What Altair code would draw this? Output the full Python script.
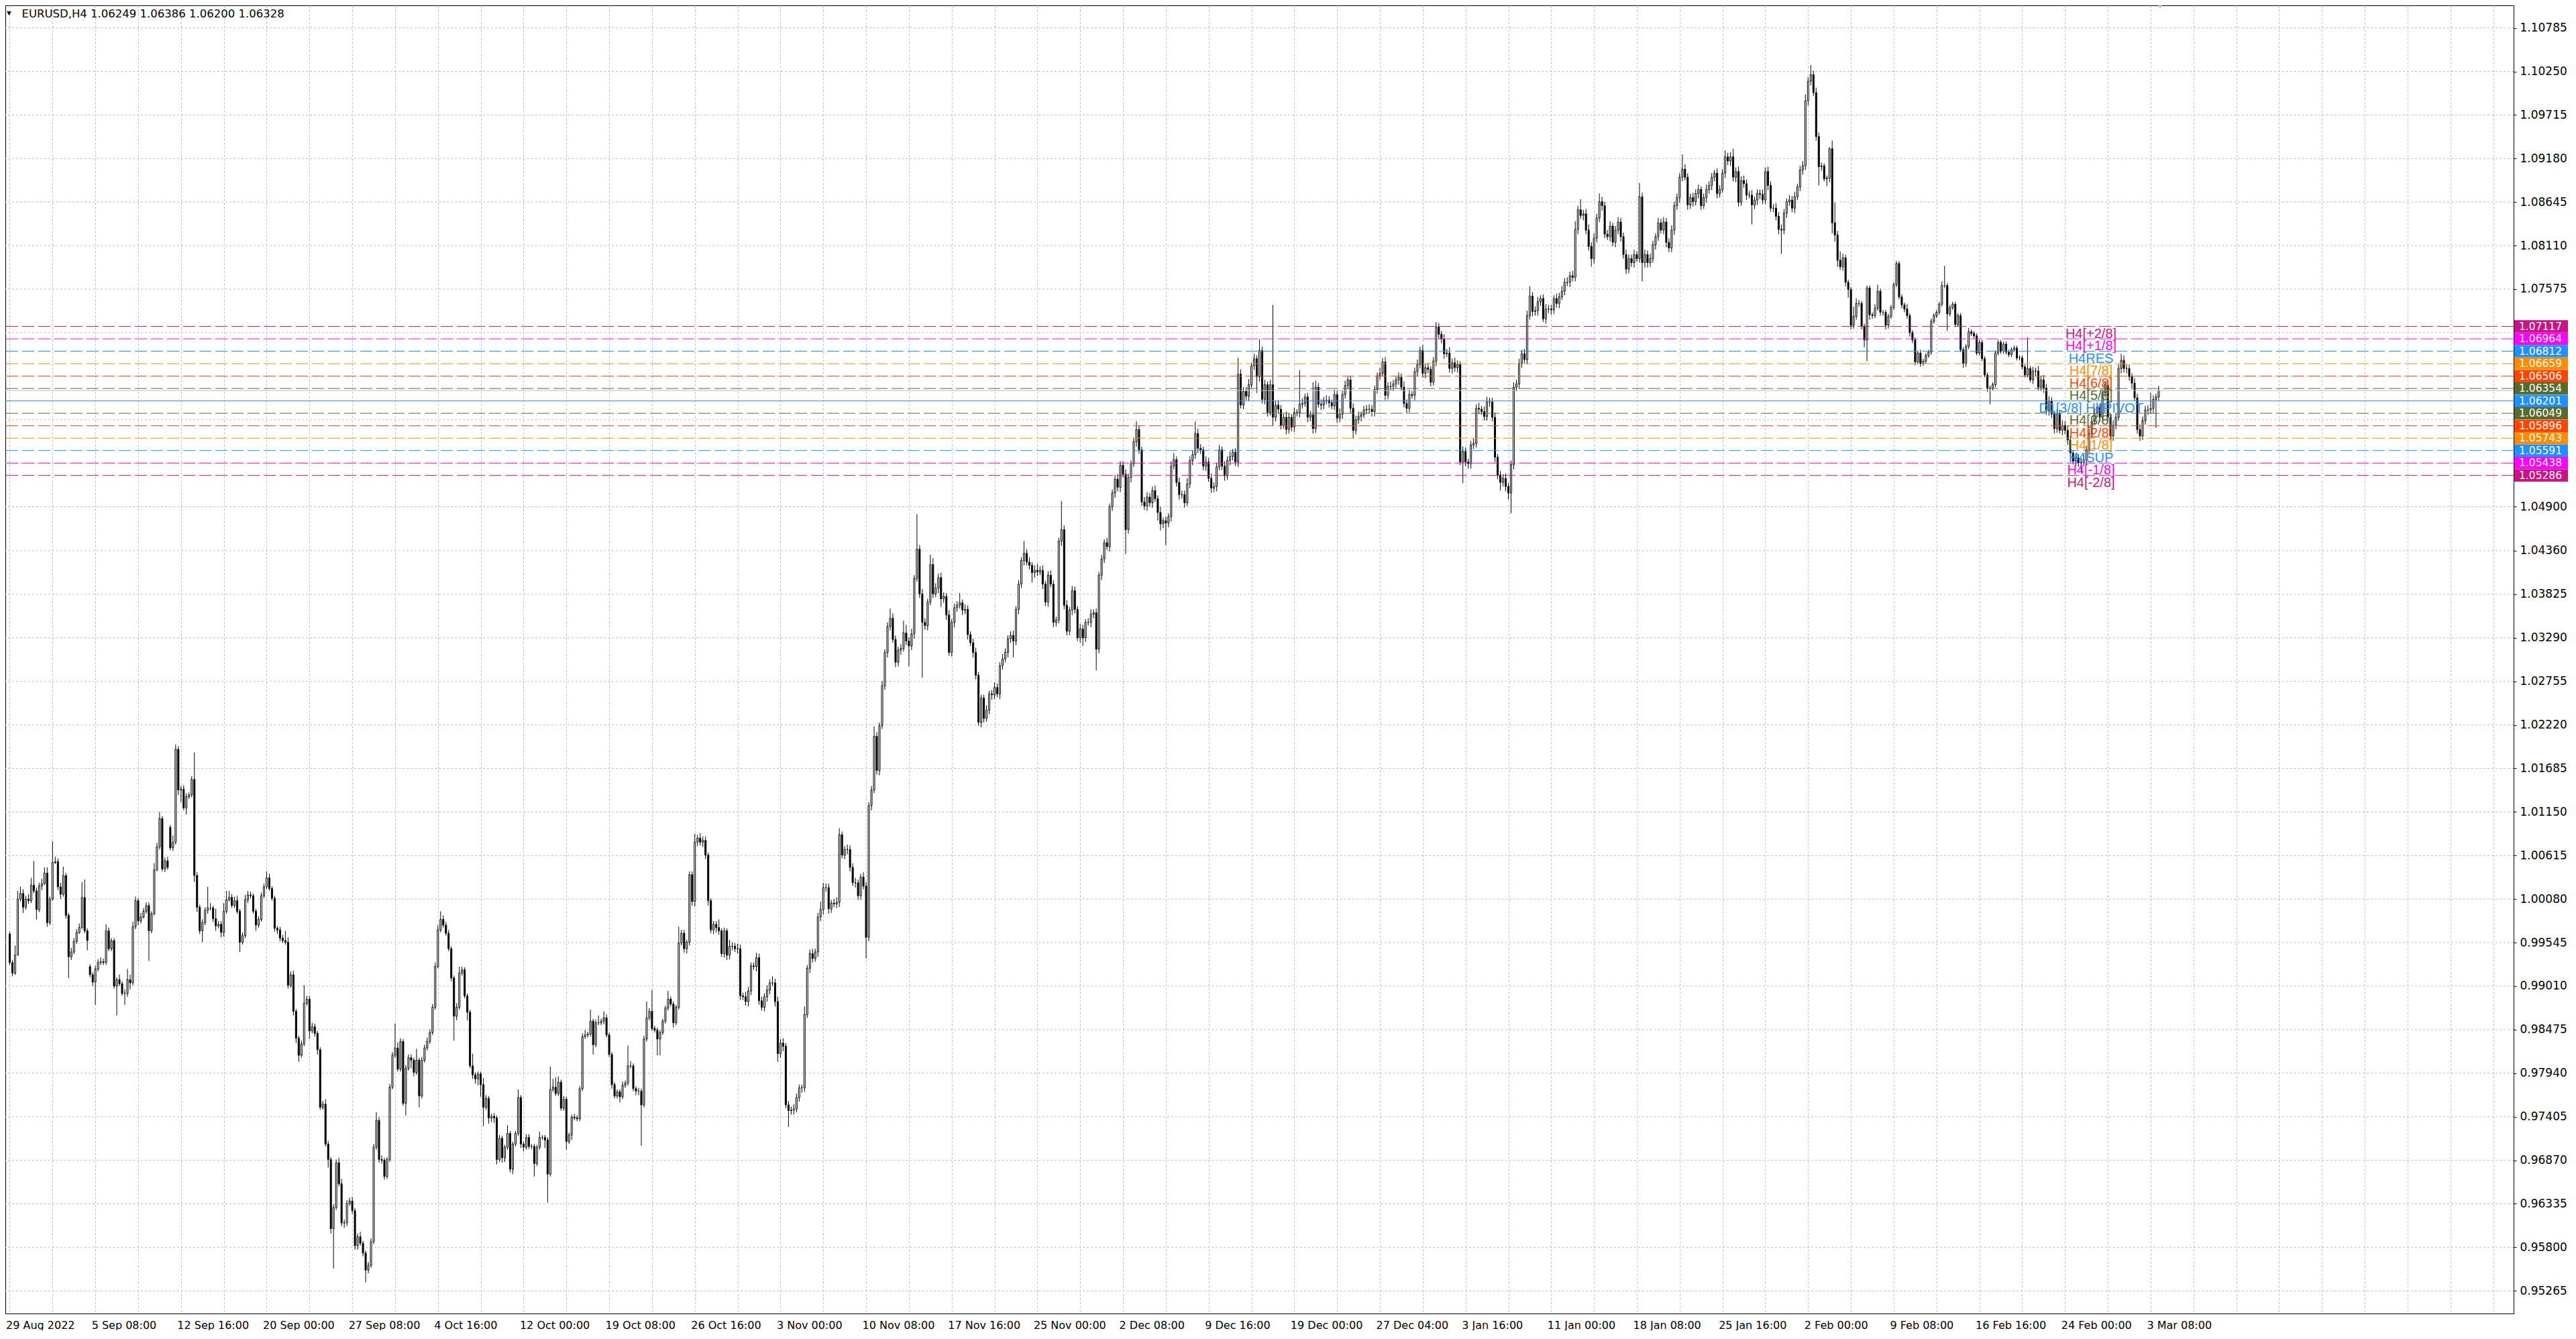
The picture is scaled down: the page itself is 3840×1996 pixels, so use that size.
import altair as alt
import pandas as pd

# ---------------- data (prices in pips, 1 pip = 0.0001) ----------------
SYMBOL = "EURUSD,H4"
FIRST_OPEN = 9965
GAP_OPENS = {30: 9925, 60: 10096}

CLOSE_PIPS = [
    9930, 9917, 9939, 10008, 10015, 9998,
    10008, 10006, 10025, 10018, 9995, 10024,
    10027, 10040, 9979, 10008, 10053, 10054,
    10023, 10014, 10037, 9988, 9937, 9943,
    9956, 9967, 9973, 10010, 9969, 9957,
    9915, 9906, 9922, 9930, 9931, 9930,
    9969, 9947, 9957, 9901, 9909, 9904,
    9892, 9892, 9909, 9905, 9974, 10006,
    9981, 9986, 9993, 10000, 9969, 9990,
    10044, 10072, 10107, 10045, 10055, 10047,
    10071, 10078, 10192, 10142, 10143, 10120,
    10134, 10136, 10155, 10037, 9998, 9969,
    9979, 9994, 9997, 9997, 9984, 9975,
    9977, 9967, 9993, 10007, 10010, 10000,
    10006, 9993, 9955, 9963, 10007, 10013,
    10012, 9993, 9976, 9983, 10012, 10023,
    10034, 10021, 10009, 9972, 9970, 9960,
    9957, 9955, 9902, 9915, 9870, 9837,
    9816, 9830, 9880, 9885, 9846, 9851,
    9843, 9823, 9752, 9756, 9707, 9688,
    9603, 9629, 9684, 9658, 9610, 9610,
    9634, 9637, 9625, 9582, 9593, 9585,
    9573, 9552, 9558, 9587, 9703, 9736,
    9688, 9687, 9667, 9688, 9777, 9816,
    9825, 9799, 9833, 9757, 9800, 9813,
    9810, 9795, 9810, 9766, 9810, 9825,
    9833, 9844, 9875, 9925, 9970, 9983,
    9976, 9966, 9947, 9911, 9864, 9875,
    9917, 9921, 9889, 9869, 9803, 9792,
    9787, 9793, 9780, 9752, 9763, 9739,
    9741, 9739, 9688, 9714, 9690, 9703,
    9720, 9676, 9707, 9720, 9764, 9707,
    9703, 9715, 9704, 9704, 9683, 9703,
    9715, 9715, 9712, 9670, 9774, 9777,
    9769, 9783, 9751, 9762, 9710, 9718,
    9740, 9739, 9738, 9775, 9839, 9841,
    9842, 9858, 9829, 9856, 9856, 9858,
    9862, 9841, 9817, 9780, 9766, 9771,
    9765, 9779, 9782, 9803, 9803, 9775,
    9772, 9772, 9755, 9836, 9862, 9870,
    9849, 9847, 9836, 9844, 9858, 9874,
    9885, 9879, 9856, 9875, 9954, 9966,
    9947, 9955, 10038, 10005, 10078, 10083,
    10078, 10080, 10062, 10006, 9970, 9977,
    9973, 9969, 9941, 9969, 9939, 9950,
    9950, 9947, 9947, 9889, 9888, 9882,
    9895, 9926, 9925, 9936, 9883, 9875,
    9888, 9896, 9905, 9905, 9882, 9818,
    9831, 9827, 9755, 9748, 9749, 9750,
    9764, 9776, 9776, 9866, 9923, 9941,
    9935, 9943, 9986, 9995, 10022, 10022,
    9996, 10003, 10002, 10004, 10087, 10062,
    10069, 10069, 10047, 10028, 10028, 10012,
    10035, 10024, 9961, 10123, 10142, 10208,
    10166, 10221, 10270, 10311, 10343, 10353,
    10327, 10299, 10314, 10316, 10335, 10325,
    10319, 10334, 10402, 10438, 10383, 10348,
    10344, 10373, 10419, 10383, 10390, 10403,
    10377, 10380, 10357, 10311, 10348, 10366,
    10369, 10372, 10363, 10364, 10333, 10323,
    10311, 10283, 10225, 10255, 10230, 10240,
    10260, 10259, 10268, 10260, 10295, 10303,
    10311, 10328, 10332, 10325, 10364, 10395,
    10424, 10433, 10422, 10418, 10409, 10412,
    10410, 10412, 10395, 10373, 10406, 10395,
    10348, 10351, 10448, 10462, 10369, 10337,
    10363, 10387, 10364, 10329, 10340, 10329,
    10348, 10348, 10358, 10360, 10315, 10406,
    10426, 10446, 10441, 10490, 10507, 10524,
    10514, 10541, 10530, 10462, 10526, 10543,
    10570, 10585, 10560, 10496, 10491, 10502,
    10495, 10510, 10500, 10483, 10469, 10473,
    10470, 10478, 10540, 10548, 10520, 10505,
    10505, 10495, 10518, 10547, 10554, 10580,
    10562, 10560, 10540, 10545, 10525, 10513,
    10515, 10539, 10560, 10540, 10528, 10547,
    10552, 10557, 10545, 10653, 10615, 10632,
    10626, 10640, 10663, 10672, 10650, 10682,
    10622, 10640, 10606, 10640, 10600, 10615,
    10610, 10590, 10600, 10585, 10600, 10588,
    10606, 10606, 10616, 10617, 10625, 10600,
    10603, 10586, 10637, 10616, 10615, 10621,
    10621, 10618, 10614, 10628, 10599, 10604,
    10628, 10639, 10646, 10611, 10584, 10597,
    10601, 10603, 10609, 10610, 10610, 10607,
    10634, 10651, 10654, 10668, 10627, 10638,
    10638, 10641, 10646, 10649, 10637, 10617,
    10611, 10628, 10627, 10656, 10665, 10682,
    10654, 10661, 10659, 10643, 10669, 10711,
    10702, 10696, 10678, 10679, 10660, 10667,
    10661, 10665, 10545, 10558, 10545, 10543,
    10566, 10568, 10611, 10610, 10607, 10601,
    10619, 10619, 10600, 10551, 10529, 10520,
    10525, 10515, 10507, 10542, 10637, 10641,
    10666, 10678, 10671, 10725, 10749, 10730,
    10731, 10742, 10746, 10721, 10733, 10733,
    10732, 10746, 10740, 10748, 10755, 10766,
    10766, 10774, 10772, 10831, 10855, 10848,
    10850, 10830, 10810, 10795, 10820, 10845,
    10865, 10860, 10825, 10822, 10835, 10815,
    10830, 10840, 10822, 10800, 10782, 10795,
    10790, 10800, 10795, 10871, 10790, 10800,
    10790, 10795, 10812, 10822, 10839, 10830,
    10840, 10815, 10808, 10830, 10860, 10870,
    10895, 10905, 10895, 10861, 10870, 10865,
    10875, 10880, 10860, 10870, 10880, 10885,
    10895, 10900, 10875, 10880, 10900, 10920,
    10915, 10920, 10895, 10902, 10864, 10891,
    10887, 10873, 10873, 10861, 10867, 10875,
    10874, 10867, 10902, 10885, 10857, 10857,
    10847, 10831, 10830, 10851, 10865, 10867,
    10857, 10871, 10883, 10904, 10909, 10989,
    11013, 11021, 10999, 10945, 10908, 10909,
    10893, 10894, 10930, 10839, 10824, 10793,
    10785, 10796, 10766, 10757, 10713, 10724,
    10740, 10740, 10712, 10695, 10759, 10726,
    10725, 10734, 10755, 10729, 10729, 10713,
    10724, 10735, 10763, 10789, 10748, 10738,
    10733, 10725, 10704, 10695, 10668, 10679,
    10666, 10669, 10676, 10680, 10718, 10725,
    10729, 10739, 10762, 10762, 10727, 10735,
    10739, 10714, 10725, 10683, 10666, 10687,
    10705, 10703, 10700, 10679, 10692, 10672,
    10652, 10636, 10636, 10640, 10679, 10692,
    10681, 10690, 10680, 10677, 10683, 10685,
    10673, 10673, 10662, 10652, 10660, 10646,
    10657, 10657, 10637, 10646, 10636, 10608,
    10620, 10604, 10586, 10604, 10584, 10590,
    10584, 10572, 10556, 10546, 10550, 10544,
    10545, 10548, 10560, 10580, 10595, 10605,
    10612, 10600, 10630, 10640, 10600, 10577,
    10590, 10600, 10660, 10670, 10660, 10660,
    10650, 10642, 10624, 10585, 10577, 10596,
    10609, 10609, 10611, 10622, 10624.9, 10632.8,
]

UPPER_WICK = [
    3, 3, 12, 10, 8, 5,  4, 6, 9, 30, 4, 4,  6, 7, 7, 3, 26, 6,
    4, 5, 11, 3, 3, 5,  4, 4, 5, 19, 22, 3,  3, 3, 4, 4, 5, 4,
    8, 4, 3, 3, 3, 6,  3, 5, 13, 6, 6, 5,  3, 5, 4, 4, 4, 3,
    8, 5, 8, 3, 4, 5,  3, 8, 6, 4, 4, 5,  4, 3, 4, 33, 4, 3,
    4, 4, 26, 6, 3, 12,  4, 4, 10, 11, 8, 4,  5, 6, 3, 4, 6, 5,
    4, 3, 3, 4, 4, 4,  8, 5, 3, 3, 3, 4,  4, 12, 6, 4, 5, 3,
    3, 4, 22, 4, 4, 5,  4, 3, 3, 4, 6, 4,  3, 4, 4, 6, 6, 4,
    4, 4, 5, 3, 4, 6,  3, 3, 4, 4, 4, 10,  4, 5, 3, 3, 4, 4,
    30, 7, 4, 3, 4, 4,  4, 3, 14, 3, 4, 4,  5, 4, 4, 5, 6, 10,
    5, 4, 4, 3, 3, 5,  8, 4, 3, 3, 3, 15,  3, 3, 3, 8, 4, 3,
    3, 4, 3, 4, 3, 3,  10, 3, 3, 3, 10, 3,  3, 4, 4, 3, 3, 3,
    7, 3, 3, 3, 28, 10,  12, 7, 3, 4, 3, 3,  3, 4, 3, 3, 4, 6,
    3, 14, 3, 4, 9, 3,  8, 4, 3, 3, 3, 3,  3, 5, 3, 25, 6, 3,
    3, 4, 3, 4, 20, 4,  26, 3, 3, 3, 3, 3,  10, 3, 3, 3, 20, 4,
    4, 3, 4, 4, 10, 4,  6, 5, 5, 3, 3, 4,  4, 10, 3, 4, 3, 8,
    5, 4, 6, 5, 4, 6,  5, 4, 4, 6, 5, 5,  4, 6, 4, 8, 5, 6,
    5, 6, 4, 5, 4, 6,  5, 4, 4, 10, 4, 5,  6, 4, 5, 10, 6, 5,
    5, 4, 5, 6, 8, 4,  4, 6, 5, 5, 6, 4,  4, 6, 5, 4, 5, 12,
    5, 4, 6, 4, 5, 12,  6, 5, 4, 5, 15, 10,  5, 6, 4, 43, 5, 6,
    5, 4, 12, 8, 6, 5,  6, 5, 4, 6, 4, 5,  5, 12, 4, 6, 5, 4,
    5, 6, 4, 4, 4, 6,  4, 5, 6, 5, 4, 6,  5, 4, 5, 6, 4, 5,
    4, 15, 5, 6, 4, 6,  8, 5, 6, 4, 5, 6,  5, 4, 4, 35, 5, 6,
    4, 6, 5, 4, 6, 5,  4, 5, 6, 4, 5, 4,  5, 4, 6, 4, 4, 5,
    6, 5, 5, 6, 5, 4,  5, 10, 5, 4, 6, 6,  5, 5, 6, 4, 7, 4,
    5, 4, 6, 8, 4, 6,  5, 5, 7, 5, 5, 15,  6, 5, 4, 7, 5, 6,
    5, 5, 6, 4, 6, 5,  6, 4, 5, 20, 6, 5,  5, 7, 4, 6, 4, 14,
    5, 6, 4, 6, 98, 5,  6, 5, 4, 7, 5, 4,  6, 4, 42, 6, 4, 5,
    5, 40, 8, 5, 6, 4,  6, 5, 4, 6, 5, 7,  5, 6, 4, 5, 6, 5,
    6, 4, 5, 5, 6, 5,  5, 4, 7, 5, 6, 5,  6, 5, 4, 6, 5, 7,
    5, 6, 4, 5, 6, 5,  7, 5, 6, 4, 5, 6,  5, 4, 6, 5, 7, 5,
    6, 5, 4, 6, 5, 4,  5, 6, 5, 7, 4, 6,  6, 5, 5, 6, 4, 5,
    5, 6, 4, 5, 6, 5,  6, 5, 6, 6, 12, 5,  5, 6, 4, 5, 6, 5,
    5, 4, 6, 5, 6, 5,  6, 5, 6, 10, 5, 13,  5, 6, 7, 5, 6, 5,
    10, 6, 5, 5, 6, 4,  5, 6, 5, 5, 6, 5,  5, 6, 4, 17, 5, 6,
    5, 6, 5, 4, 6, 5,  6, 5, 5, 6, 5, 5,  5, 18, 6, 5, 5, 6,
    5, 6, 4, 5, 6, 5,  5, 4, 6, 5, 5, 8,  5, 6, 10, 5, 6, 5,
    6, 5, 5, 6, 4, 5,  5, 6, 5, 6, 5, 5,  6, 5, 6, 5, 4, 6,
    5, 6, 4, 5, 6, 8,  5, 12, 5, 6, 5, 4,  3, 3, 2, 10, 25, 5,
    11, 5, 4, 3, 3, 12,  6, 4, 3, 3, 3, 3,  3, 5, 8, 3, 3, 3,
    3, 3, 3, 3, 3, 3,  3, 6, 3, 3, 3, 3,  4, 3, 3, 3, 3, 3,
    3, 3, 5, 24, 3, 3,  3, 3, 3, 3, 3, 3,  5, 3, 3, 3, 3, 3,
    3, 3, 3, 3, 3, 3,  3, 3, 3, 3, 3, 3,  3, 3, 3, 3, 38, 3,
    5, 4, 6, 5, 6, 5,  6, 5, 4, 6, 5, 6,  5, 6, 5, 4, 6, 5,
    5, 6, 5, 6, 5, 6,  6, 5, 5, 5, 6, 5,  6, 5, 5, 8, 6, 5,
    5, 4, 6, 5, 6, 5,  5, 6, 19, 5, 4, 5.8,
]

LOWER_WICK = [
    3, 4, 2, 0, 3, 7,  3, 4, 3, 3, 12, 3,  5, 2, 5, 3, 2, 2,
    4, 6, 3, 4, 26, 4,  3, 3, 2, 2, 3, 12,  3, 5, 28, 3, 3, 3,
    3, 3, 3, 3, 36, 3,  3, 14, 4, 8, 3, 3,  5, 3, 2, 3, 37, 3,
    2, 2, 3, 3, 4, 3,  3, 4, 3, 6, 15, 3,  8, 3, 3, 8, 6, 4,
    14, 3, 4, 3, 4, 6,  3, 6, 5, 3, 2, 3,  3, 3, 12, 3, 3, 4,
    3, 3, 7, 3, 3, 3,  3, 3, 3, 4, 5, 4,  3, 3, 4, 3, 5, 6,
    8, 3, 3, 3, 10, 3,  4, 6, 3, 3, 3, 10,  6, 49, 3, 3, 4, 6,
    4, 3, 4, 5, 5, 3,  4, 15, 4, 3, 3, 3,  4, 4, 4, 3, 3, 3,
    3, 3, 3, 3, 15, 3,  10, 5, 3, 14, 3, 3,  3, 3, 3, 3, 2, 3,
    3, 3, 3, 4, 30, 5,  3, 3, 3, 10, 3, 5,  6, 8, 15, 23, 3, 7,
    5, 6, 6, 3, 6, 5,  3, 4, 6, 3, 3, 5,  5, 3, 3, 3, 16, 3,
    3, 3, 10, 35, 3, 3,  3, 3, 3, 3, 10, 3,  6, 3, 3, 3, 3, 3,
    3, 3, 12, 3, 3, 3,  4, 3, 3, 5, 3, 3,  7, 3, 3, 3, 3, 3,
    5, 5, 50, 3, 3, 3,  3, 3, 20, 20, 3, 3,  3, 3, 6, 3, 3, 3,
    5, 6, 4, 5, 6, 5,  4, 6, 5, 6, 4, 5,  6, 5, 4, 5, 6, 5,
    5, 4, 6, 5, 4, 5,  6, 5, 4, 6, 5, 4,  5, 6, 5, 4, 6, 10,
    5, 6, 4, 20, 5, 6,  4, 5, 6, 5, 4, 6,  5, 4, 6, 5, 6, 5,
    6, 5, 4, 5, 6, 4,  5, 6, 5, 4, 6, 5,  5, 4, 26, 5, 6, 4,
    5, 6, 4, 5, 6, 5,  4, 6, 5, 6, 4, 5,  25, 5, 6, 4, 5, 68,
    5, 6, 4, 5, 4, 6,  10, 5, 6, 4, 5, 6,  5, 4, 6, 5, 6, 4,
    6, 5, 4, 6, 5, 4,  5, 6, 5, 4, 6, 5,  4, 6, 5, 20, 5, 6,
    5, 6, 4, 5, 12, 6,  5, 4, 6, 5, 6, 4,  6, 5, 4, 6, 5, 5,
    5, 6, 5, 4, 6, 10,  5, 4, 6, 5, 26, 5,  6, 5, 4, 6, 5, 6,
    5, 6, 4, 30, 5, 6,  4, 6, 5, 5, 5, 6,  5, 6, 4, 10, 8, 5,
    27, 5, 6, 4, 5, 6,  5, 6, 4, 5, 6, 5,  6, 5, 5, 6, 4, 6,
    5, 6, 4, 5, 6, 5,  6, 5, 5, 6, 4, 5,  5, 6, 4, 5, 20, 6,
    5, 6, 5, 4, 10, 5,  6, 5, 4, 6, 5, 5,  6, 5, 6, 5, 4, 6,
    5, 6, 5, 4, 6, 5,  5, 6, 4, 5, 6, 5,  6, 5, 4, 6, 10, 5,
    5, 6, 4, 5, 5, 6,  6, 5, 5, 4, 6, 5,  5, 6, 5, 6, 4, 5,
    6, 5, 4, 6, 5, 5,  5, 6, 5, 5, 4, 6,  6, 5, 6, 4, 5, 6,
    5, 6, 4, 26, 5, 6,  6, 5, 5, 6, 4, 5,  5, 6, 5, 6, 5, 10,
    5, 6, 8, 25, 6, 5,  6, 5, 4, 6, 5, 6,  5, 6, 5, 4, 6, 5,
    6, 5, 5, 6, 4, 5,  5, 6, 5, 5, 6, 4,  6, 5, 5, 10, 6, 5,
    5, 6, 5, 4, 6, 5,  6, 5, 6, 5, 6, 5,  5, 6, 4, 5, 23, 6,
    6, 5, 5, 6, 5, 4,  5, 6, 5, 5, 6, 5,  6, 5, 4, 6, 5, 6,
    5, 6, 5, 4, 6, 5,  6, 5, 6, 5, 4, 6,  5, 6, 5, 6, 5, 4,
    5, 6, 4, 24, 5, 6,  6, 5, 5, 6, 4, 5,  5, 6, 29, 5, 6, 5,
    5, 6, 4, 5, 6, 5,  6, 5, 4, 5, 23, 5,  3, 9, 5, 13, 8, 8,
    4, 5, 5, 10, 5, 4,  4, 4, 4, 9, 26, 6,  4, 3, 3, 4, 4, 5,
    4, 3, 3, 3, 3, 4,  4, 4, 5, 4, 4, 3,  4, 3, 3, 3, 3, 3,
    3, 3, 3, 3, 21, 3,  3, 3, 3, 3, 5, 4,  3, 3, 3, 3, 3, 3,
    3, 5, 20, 3, 3, 3,  3, 3, 3, 3, 3, 3,  3, 3, 3, 3, 3, 3,
    5, 6, 4, 5, 6, 5,  6, 5, 6, 5, 4, 6,  5, 6, 5, 4, 6, 5,
    11, 5, 6, 5, 6, 4,  5, 6, 5, 6, 5, 5,  6, 5, 4, 6, 5, 6,
    5, 6, 4, 5, 6, 5,  5, 6, 5, 6, 35, 4.9,
]

X_LABEL_STEP = 32  # bars between date labels
X_LABELS = ["29 Aug 2022", "5 Sep 08:00", "12 Sep 16:00", "20 Sep 00:00", "27 Sep 08:00",
            "4 Oct 16:00", "12 Oct 00:00", "19 Oct 08:00", "26 Oct 16:00", "3 Nov 00:00",
            "10 Nov 08:00", "17 Nov 16:00", "25 Nov 00:00", "2 Dec 08:00", "9 Dec 16:00",
            "19 Dec 00:00", "27 Dec 04:00", "3 Jan 16:00", "11 Jan 00:00", "18 Jan 08:00",
            "25 Jan 16:00", "2 Feb 00:00", "9 Feb 08:00", "16 Feb 16:00", "24 Feb 00:00",
            "3 Mar 08:00"]

Y_TICKS = [1.10785, 1.10250, 1.09715, 1.09180, 1.08645, 1.08110, 1.07575, 1.07040,
           1.06505, 1.05970, 1.05435, 1.04900, 1.04360, 1.03825, 1.03290, 1.02755,
           1.02220, 1.01685, 1.01150, 1.00615, 1.00080, 0.99545, 0.99010, 0.98475,
           0.97940, 0.97405, 0.96870, 0.96335, 0.95800, 0.95265]

LEVEL_NAMES = ["H4[+2/8]", "H4[+1/8]", "H4RES", "H4[7/8]", "H4[6/8]", "H4[5/8]",
               "D1[3/8] H4PIVOT", "H4[3/8]", "H4[2/8]", "H4[1/8]", "H4SUP",
               "H4[-1/8]", "H4[-2/8]"]
LEVEL_PRICES = [1.07117, 1.06964, 1.06812, 1.06659, 1.06506, 1.06354, 1.06201,
                1.06049, 1.05896, 1.05743, 1.05591, 1.05438, 1.05286]

# ---------------- style ----------------
LEVEL_COLORS = ["#C71585", "#FF00FF", "#1E90FF", "#FF8C00", "#FF4500", "#556B2F",
                "#1E90FF", "#556B2F", "#FF4500", "#FF8C00", "#1E90FF", "#FF00FF", "#C71585"]
W, H = 3739, 1950
X_DOMAIN = [-0.375, 934.375]
Y_DOMAIN = [0.94987, 1.11062]
GRID = "#BDBDBD"
X_GRID_STEP = 16

# ---------------- build tables ----------------
n = len(CLOSE_PIPS)
rows = []
for i in range(n):
    c = CLOSE_PIPS[i]
    o = FIRST_OPEN if i == 0 else GAP_OPENS.get(i, CLOSE_PIPS[i - 1])
    hi = max(o, c) + UPPER_WICK[i]
    lo = min(o, c) - LOWER_WICK[i]
    rows.append({"i": i, "open": o / 1e4, "close": c / 1e4,
                 "high": hi / 1e4, "low": lo / 1e4})
bars = pd.DataFrame(rows)
last = bars.iloc[-1]
header = f"{SYMBOL}  {last['open']:.5f} {last['high']:.5f} {last['low']:.5f} {last['close']:.5f}"

half = (LEVEL_PRICES[0] - LEVEL_PRICES[-1]) / (len(LEVEL_PRICES) - 1) / 2
levels = pd.DataFrame({"name": LEVEL_NAMES, "price": LEVEL_PRICES})
levels["top"] = levels["price"] + half
levels["bot"] = levels["price"] - half
levels["label"] = [f"{p:.5f}" for p in LEVEL_PRICES]
visible_ticks = [t for t in Y_TICKS
                 if not (min(LEVEL_PRICES) - half <= t <= max(LEVEL_PRICES) + half)]

arr = "[" + ",".join("'" + s + "'" for s in X_LABELS) + "]"
label_expr = (f"(datum.value % {X_LABEL_STEP} == 0 && datum.value / {X_LABEL_STEP} < {len(X_LABELS)})"
              f" ? {arr}[datum.value / {X_LABEL_STEP}] : ''")

xscale = alt.Scale(domain=X_DOMAIN, nice=False, zero=False)
xaxis = alt.Axis(values=list(range(0, int(X_DOMAIN[1]) + 1, X_GRID_STEP)), labelExpr=label_expr,
                 grid=True, gridDash=[3, 3], gridColor=GRID, gridWidth=1, ticks=False,
                 domain=True, domainColor="black", labelAlign="left", labelBaseline="top",
                 labelFont="DejaVu Sans", labelFontSize=16, labelColor="black",
                 labelPadding=9, labelOffset=-6, labelOverlap=False, labelFlush=False, title=None)
yscale = alt.Scale(domain=Y_DOMAIN, nice=False, zero=False)
yaxis = alt.Axis(orient="right", values=visible_ticks, format=".5f", grid=False,
                 ticks=True, tickSize=4, tickColor="black", domain=True, domainColor="black",
                 labelFont="DejaVu Sans", labelFontSize=17, labelColor="black",
                 labelPadding=5, labelOverlap=False, title=None)

xenc = alt.X("i:Q", scale=xscale, axis=xaxis)


def Y(field):
    return alt.Y(field + ":Q", scale=yscale, axis=yaxis)


color = alt.Color("name:N", scale=alt.Scale(domain=LEVEL_NAMES, range=LEVEL_COLORS), legend=None)

grid_layer = alt.Chart(pd.DataFrame({"p": Y_TICKS})).mark_rule(
    color=GRID, strokeDash=[3, 3], strokeWidth=1).encode(y=Y("p"))

wick = alt.Chart(bars).mark_rule(color="black", strokeWidth=1).encode(
    x=xenc, y=Y("low"), y2="high")
body = alt.Chart(bars).mark_bar(width=2, stroke="black", strokeWidth=1).encode(
    x=xenc, y=Y("open"), y2="close",
    fill=alt.condition("datum.close >= datum.open", alt.value("white"), alt.value("black")))

lev = alt.Chart(levels)
dashed = lev.transform_filter("indexof(datum.name, 'PIVOT') < 0").mark_rule(
    strokeWidth=1, strokeDash=[18, 6]).encode(y=Y("price"), color=color)
solid = lev.transform_filter("indexof(datum.name, 'PIVOT') >= 0").mark_rule(
    strokeWidth=1).encode(y=Y("price"), color=color)

bid = alt.Chart(pd.DataFrame({"p": [last["close"]]})).mark_rule(
    color="#BEBEBE", strokeWidth=1).encode(y=Y("p"))

lev_text = lev.mark_text(font="Liberation Sans", fontSize=20, align="center",
                         baseline="middle", dy=11).encode(
    x=alt.value(3109), y=Y("price"), text="name:N", color=color)

boxes = lev.mark_rect().encode(x=alt.value(W + 1), x2=alt.value(W + 81),
                               y=Y("top"), y2="bot", color=color)
box_text = lev.mark_text(font="DejaVu Sans", fontSize=15.5, align="left",
                         baseline="middle", color="white").encode(
    x=alt.value(W + 8), y=Y("price"), text="label:N")

tri = alt.Chart(pd.DataFrame({"t": [0]})).mark_point(
    shape="triangle-down", filled=True, size=45, color="black", opacity=1).encode(
    x=alt.value(5.5), y=alt.value(12))
shift_mark = alt.Chart(pd.DataFrame({"t": [0]})).mark_point(
    shape="triangle-down", filled=True, size=60, color="#A8A8A8", opacity=1).encode(
    x=alt.value(3212), y=alt.value(1))
hdr = alt.Chart(pd.DataFrame({"t": [header]})).mark_text(
    font="DejaVu Sans", fontSize=16.5, align="left", baseline="middle", color="black").encode(
    x=alt.value(24.5), y=alt.value(12.5), text="t:N")

chart = alt.layer(
    grid_layer, wick, body, dashed, solid, bid, lev_text, boxes, box_text, tri, shift_mark, hdr
).properties(
    width=W, height=H,
    padding={"left": 0, "top": 0, "right": 82, "bottom": 25},
    autosize=alt.AutoSizeParams(type="none"),
    background="white",
).configure_view(stroke="black", strokeWidth=1)

chart.save("out.html", embed_options={"renderer": "svg", "actions": False})
